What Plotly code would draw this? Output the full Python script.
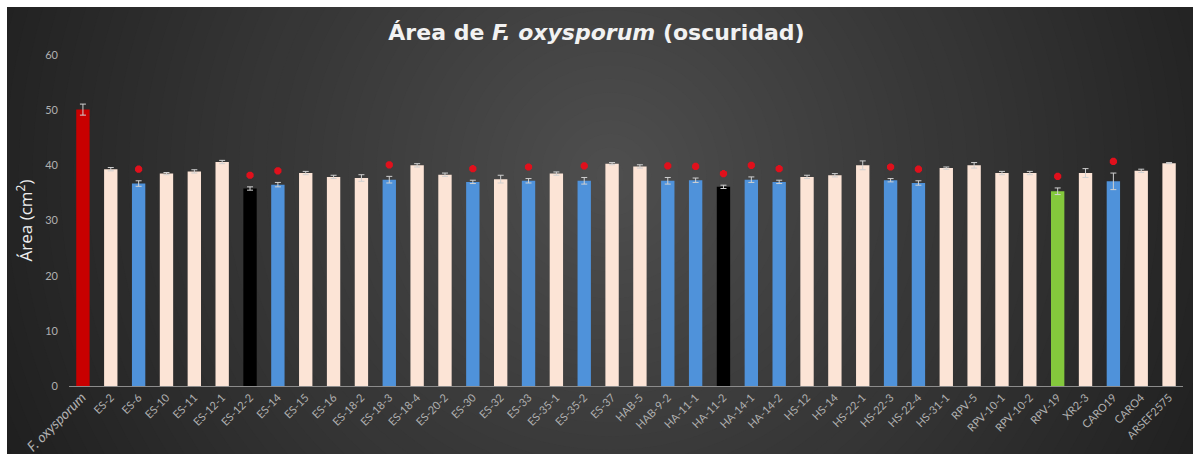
import plotly.graph_objects as go

# Strains and mean colony area (cm²) with standard error
strains = [
    "F. oxysporum", "ES-2", "ES-6", "ES-10", "ES-11", "ES-12-1", "ES-12-2", "ES-14",
    "ES-15", "ES-16", "ES-18-2", "ES-18-3", "ES-18-4", "ES-20-2", "ES-30", "ES-32",
    "ES-33", "ES-35-1", "ES-35-2", "ES-37", "HAB-5", "HAB-9-2", "HA-11-1", "HA-11-2",
    "HA-14-1", "HA-14-2", "HS-12", "HS-14", "HS-22-1", "HS-22-3", "HS-22-4", "HS-31-1",
    "RPV-5", "RPV-10-1", "RPV-10-2", "RPV-19", "XR2-3", "CARO19", "CARO4", "ARSEF2575",
]
area = [
    50.1, 39.3, 36.7, 38.5, 38.9, 40.6, 35.8, 36.5,
    38.6, 37.9, 37.7, 37.4, 40.0, 38.3, 37.0, 37.5,
    37.2, 38.5, 37.2, 40.3, 39.8, 37.2, 37.3, 36.1,
    37.4, 37.0, 37.9, 38.2, 40.0, 37.3, 36.8, 39.5,
    40.0, 38.6, 38.6, 35.3, 38.6, 37.1, 39.0, 40.4,
]
area_err = [
    1.0, 0.3, 0.5, 0.2, 0.3, 0.3, 0.3, 0.4,
    0.3, 0.3, 0.6, 0.6, 0.3, 0.3, 0.3, 0.7,
    0.4, 0.3, 0.6, 0.2, 0.3, 0.6, 0.4, 0.3,
    0.5, 0.3, 0.3, 0.3, 0.8, 0.3, 0.4, 0.2,
    0.5, 0.3, 0.3, 0.6, 0.8, 1.5, 0.3, 0.1,
]
# Strains significantly different from the control (marked with *)
significant = [
    "ES-6", "ES-12-2", "ES-14", "ES-18-3", "ES-30", "ES-33", "ES-35-2", "HAB-9-2",
    "HA-11-1", "HA-11-2", "HA-14-1", "HA-14-2", "HS-22-3", "HS-22-4", "RPV-19", "CARO19",
]
black_strains = ["ES-12-2", "HA-11-2"]
green_strains = ["RPV-19"]
control = "F. oxysporum"
y_ticks = [0, 10, 20, 30, 40, 50, 60]

RED, PEACH, BLUE, BLACK, GREEN = "#c80000", "#fce4d6", "#4f92da", "#000000", "#84c83c"


def bar_color(s):
    if s == control:
        return RED
    if s in black_strains:
        return BLACK
    if s in green_strains:
        return GREEN
    if s in significant:
        return BLUE
    return PEACH


colors = [bar_color(s) for s in strains]
tick_text = ['<span style="font-size:14px"><i>F. oxysporum</i></span>' if s == control else s
             for s in strains]

fig = go.Figure()
fig.add_trace(go.Bar(
    x=strains, y=area,
    marker=dict(color=colors, line=dict(width=0)),
    error_y=dict(type="data", array=area_err, color="#d0d0d0", thickness=1, width=3),
    showlegend=False,
))

sig_idx = [strains.index(s) for s in significant]
fig.add_trace(go.Scatter(
    x=[strains[i] for i in sig_idx],
    y=[area[i] + area_err[i] + 2.1 for i in sig_idx],
    mode="markers",
    marker=dict(symbol="asterisk-open", size=6, color="#e0101c",
                line=dict(color="#e0101c", width=3)),
    showlegend=False, hoverinfo="skip",
))

# Canvas geometry (pixels) for the radial background
W, H = 1193, 454
ML, MR, MT, MB = 69, 10, 55, 68
PW, PH = W - ML - MR, H - MT - MB


def px_x(x):
    return (x - ML) / PW


def px_y(y):
    return (H - MB - y) / PH


shapes = [dict(type="rect", xref="paper", yref="paper",
               x0=px_x(7), x1=px_x(W + 5), y0=px_y(H + 5), y1=px_y(7),
               fillcolor="#1f1f1f", line=dict(width=0), layer="below")]
cx, cy, R = 610, 175, 660
n_steps = 48
c_out, c_in = 0x1f, 0x4e
for k in range(n_steps):
    t = k / n_steps
    r = R * (1 - t)
    g = round(c_out + (c_in - c_out) * (t + 1 / n_steps))
    shapes.append(dict(type="circle", xref="paper", yref="paper",
                       x0=px_x(cx - r), x1=px_x(cx + r),
                       y0=px_y(cy + r), y1=px_y(cy - r),
                       fillcolor=f"rgb({g},{g},{g})", line=dict(width=0), layer="below"))
# white frame strip along the top and left edges
shapes.append(dict(type="rect", xref="paper", yref="paper",
                   x0=px_x(-5), x1=px_x(W + 5), y0=px_y(7), y1=px_y(-5),
                   fillcolor="white", line=dict(width=0), layer="below"))
shapes.append(dict(type="rect", xref="paper", yref="paper",
                   x0=px_x(-5), x1=px_x(7), y0=px_y(H + 5), y1=px_y(-5),
                   fillcolor="white", line=dict(width=0), layer="below"))

fig.update_layout(
    width=W, height=H,
    margin=dict(l=ML, r=MR, t=MT, b=MB, pad=0, autoexpand=False),
    paper_bgcolor="white",
    plot_bgcolor="rgba(0,0,0,0)",
    shapes=shapes,
    bargap=0.52,
    title=dict(
        text="Área de <i>F. oxysporum</i> (oscuridad)",
        x=0.5, xanchor="center", y=1 - 32 / H, yanchor="middle",
        font=dict(family="DejaVu Sans, sans-serif", size=22, color="#f2f2f2", weight="bold"),
    ),
    xaxis=dict(
        tickmode="array", tickvals=strains, ticktext=tick_text,
        tickangle=-45, tickfont=dict(family="Lato, sans-serif", size=11, color="#b0b0b0"),
        showline=True, linecolor="#8c8c8c", linewidth=1, automargin=False,
        showgrid=False, ticks="", range=[-0.5, len(strains) - 0.5],
    ),
    yaxis=dict(
        range=[0, 60], tickvals=y_ticks, automargin=False,
        tickfont=dict(family="Lato, sans-serif", size=11, color="#b0b0b0"),
        showgrid=False, zeroline=False, showline=False, ticks="",
        ticklabelstandoff=10,
        title=dict(text="Área (cm<sup>2</sup>)", standoff=8,
                   font=dict(family="Open Sans, sans-serif", size=17, color="#f0f0f0")),
    ),
)

fig.write_html("out.html")
